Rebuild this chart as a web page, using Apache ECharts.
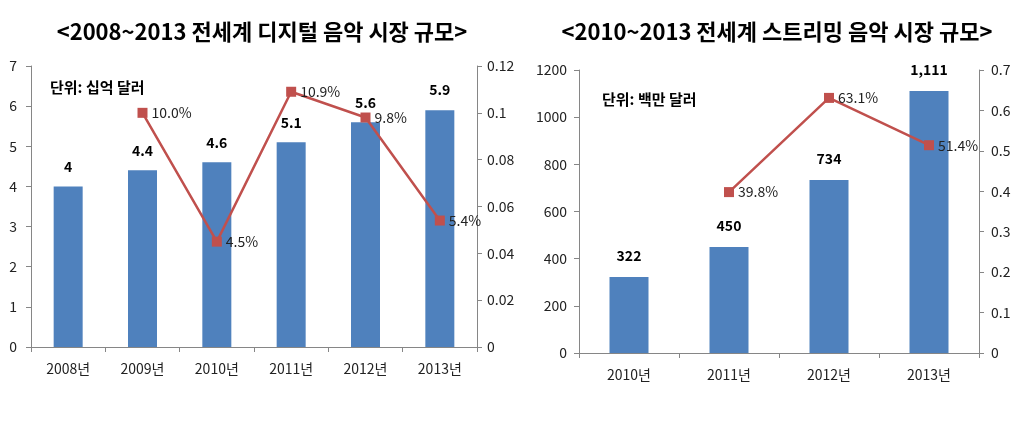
<!DOCTYPE html>
<html><head><meta charset="utf-8">
<script src="https://cdn.jsdelivr.net/npm/echarts@6/dist/echarts.min.js"></script>
<style>html,body{margin:0;padding:0;background:#fff}#c{width:1024px;height:421px}</style>
</head><body><div id="c"></div>
<script>
const titleLeft = '<2008~2013 전세계 디지털 음악 시장 규모>';
const titleRight = '<2010~2013 전세계 스트리밍 음악 시장 규모>';
const unitLeft = '단위: 십억 달러';
const unitRight = '단위: 백만 달러';
const catsLeft = ['2008년','2009년','2010년','2011년','2012년','2013년'];
const barsLeft = [4, 4.4, 4.6, 5.1, 5.6, 5.9];
const growthLeft = [null, 0.100, 0.045, 0.109, 0.098, 0.054];
const catsRight = ['2010년','2011년','2012년','2013년'];
const barsRight = [322, 450, 734, 1111];
const growthRight = [null, 0.398, 0.631, 0.514];

const FONT = '"Noto Sans CJK KR", "Noto Sans", sans-serif';
const BAR = '#4F81BD', LINE = '#C0504D', AX = '#868686', TXT = '#222';

function yAxis(grid, min, max, interval, pos, fmt, margin) {
  return {
    type: 'value', gridIndex: grid, min, max, interval, position: pos,
    axisLine: {show: true, lineStyle: {color: AX}},
    axisTick: {show: true, lineStyle: {color: AX}, length: 5},
    splitLine: {show: false},
    axisLabel: {color: TXT, fontFamily: FONT, fontSize: 14, margin: margin, formatter: fmt}
  };
}
function xAxis(grid, cats) {
  return {
    type: 'category', gridIndex: grid, data: cats,
    axisLine: {show: true, lineStyle: {color: AX}},
    axisTick: {show: true, lineStyle: {color: AX}, length: 5},
    axisLabel: {color: TXT, fontFamily: FONT, fontSize: 14, margin: 15}
  };
}
const plain = v => String(v);
const chart = echarts.init(document.getElementById('c'));
chart.setOption({
  animation: false,
  title: [
    {text: titleLeft, left: 257, top: 16, textAlign: 'center',
     textStyle: {fontFamily: FONT, fontSize: 22, fontWeight: 'bold', color: '#000'}},
    {text: titleRight, left: 772, top: 16, textAlign: 'center',
     textStyle: {fontFamily: FONT, fontSize: 22, fontWeight: 'bold', color: '#000'}},
    {text: unitLeft, left: 45, top: 75,
     textStyle: {fontFamily: FONT, fontSize: 15, fontWeight: 'bold', color: '#000'}},
    {text: unitRight, left: 597, top: 87,
     textStyle: {fontFamily: FONT, fontSize: 15, fontWeight: 'bold', color: '#000'}}
  ],
  grid: [
    {left: 31, right: 547, top: 66, bottom: 74},
    {left: 579, right: 45, top: 70, bottom: 68}
  ],
  xAxis: [xAxis(0, catsLeft), xAxis(1, catsRight)],
  yAxis: [
    yAxis(0, 0, 7, 1, 'left', plain, 14),
    yAxis(0, 0, 0.12, 0.02, 'right', v => v === 0 ? '0' : String(+v.toFixed(2)), 10),
    yAxis(1, 0, 1200, 200, 'left', plain, 12),
    yAxis(1, 0, 0.7, 0.1, 'right', v => v === 0 ? '0' : String(+v.toFixed(1)), 12)
  ],
  series: [
    {type: 'bar', xAxisIndex: 0, yAxisIndex: 0, data: barsLeft, barWidth: 29,
     itemStyle: {color: BAR},
     label: {show: true, position: 'top', distance: 13, fontFamily: FONT, fontSize: 14, fontWeight: 'bold', color: '#000'}},
    {type: 'line', xAxisIndex: 0, yAxisIndex: 1, data: growthLeft, symbol: 'rect', symbolSize: 10,
     lineStyle: {color: LINE, width: 2.5}, itemStyle: {color: LINE},
     label: {show: true, position: 'right', distance: 4, fontFamily: FONT, fontSize: 14, color: TXT,
       formatter: p => (p.value * 100).toFixed(1) + '%'}},
    {type: 'bar', xAxisIndex: 1, yAxisIndex: 2, data: barsRight, barWidth: 39,
     itemStyle: {color: BAR},
     label: {show: true, position: 'top', distance: 14, fontFamily: FONT, fontSize: 14, fontWeight: 'bold', color: '#000',
       formatter: p => p.value.toLocaleString('en-US')}},
    {type: 'line', xAxisIndex: 1, yAxisIndex: 3, data: growthRight, symbol: 'rect', symbolSize: 10,
     lineStyle: {color: LINE, width: 2.5}, itemStyle: {color: LINE},
     label: {show: true, position: 'right', distance: 4, fontFamily: FONT, fontSize: 14, color: TXT,
       formatter: p => (p.value * 100).toFixed(1) + '%'}}
  ]
});
</script></body></html>
